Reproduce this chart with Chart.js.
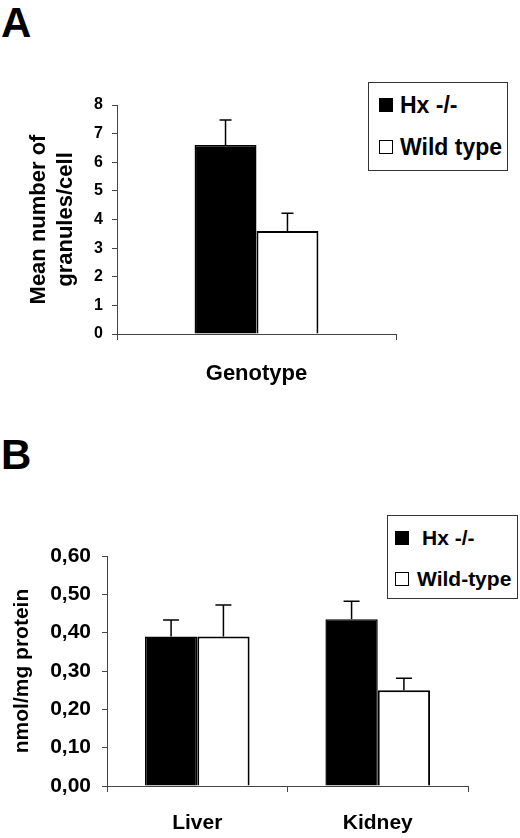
<!DOCTYPE html>
<html><head><meta charset="utf-8">
<script src="https://cdn.jsdelivr.net/npm/chart.js@4.4.1/dist/chart.umd.min.js"></script>
<style>
html,body{margin:0;padding:0;background:#fff;}
body{width:520px;height:838px;position:relative;overflow:hidden;font-family:"Liberation Sans",Arial,sans-serif;font-weight:bold;color:#000;}
.letter{position:absolute;left:1px;font-size:42px;line-height:42px;font-weight:bold;}
canvas{position:absolute;left:0;}
.legend{position:absolute;border:1px solid #333;background:#fff;box-sizing:border-box;}
.item{position:absolute;display:flex;align-items:center;white-space:nowrap;height:30px;}
.sw{display:inline-block;box-sizing:border-box;width:14px;height:14px;border:1.5px solid #000;flex:none;}
</style></head>
<body>
<div class="letter" style="top:2px">A</div>
<div class="letter" style="top:434px">B</div>
<canvas id="cA" width="520" height="400" style="top:0"></canvas>
<canvas id="cB" width="520" height="418" style="top:420px"></canvas>
<div id="legA" class="legend" style="left:368px;top:82px;width:140px;height:89px"></div>
<div id="legB" class="legend" style="left:387px;top:515px;width:131px;height:84px"></div>
<script>
// ---- Panel A data ----
const categoriesA = ['Genotype'];
const seriesNamesA = ['Hx -/-', 'Wild type'];
const hxA = [6.6];
const wtA = [3.6];
const hxErrA = [0.88];
const wtErrA = [0.62];
const yTicksA = ['0','1','2','3','4','5','6','7','8'];
const yTitleA = ['Mean number of', 'granules/cell'];

// ---- Panel B data ----
const categoriesB = ['Liver', 'Kidney'];
const seriesNamesB = ['Hx -/-', 'Wild-type'];
const hxB = [0.39, 0.435];
const wtB = [0.39, 0.25];
const hxErrB = [0.043, 0.047];
const wtErrB = [0.082, 0.031];
const yTicksB = ['0,00','0,10','0,20','0,30','0,40','0,50','0,60'];
const yTitleB = 'nmol/mg protein';

const FONT = '"Liberation Sans", Arial, sans-serif';

const errorBars = {
  id: 'errorBars',
  afterDatasetsDraw(chart, args, opts) {
    const ctx = chart.ctx, ys = chart.scales.y;
    ctx.save();
    ctx.strokeStyle = '#000';
    ctx.lineWidth = 1.5;
    chart.data.datasets.forEach((ds, i) => {
      const meta = chart.getDatasetMeta(i);
      meta.data.forEach((bar, j) => {
        const top = ys.getPixelForValue(ds.data[j] + ds.errors[j]);
        ctx.beginPath();
        ctx.moveTo(bar.x, bar.y);
        ctx.lineTo(bar.x, top);
        ctx.moveTo(bar.x - opts.cap / 2, top);
        ctx.lineTo(bar.x + opts.cap / 2, top);
        ctx.stroke();
      });
    });
    ctx.restore();
  }
};

function makeChart(id, cfg) {
  return new Chart(document.getElementById(id), {
    type: 'bar',
    data: {
      labels: cfg.cats,
      datasets: [
        { label: cfg.names[0], data: cfg.hx, errors: cfg.hxErr, backgroundColor: '#000', borderColor: '#000', borderWidth: 1.5 },
        { label: cfg.names[1], data: cfg.wt, errors: cfg.wtErr, backgroundColor: '#fff', borderColor: '#000', borderWidth: 2 }
      ]
    },
    plugins: [errorBars],
    options: {
      responsive: false,
      animation: false,
      devicePixelRatio: 1,
      layout: { padding: cfg.pad },
      datasets: { bar: { categoryPercentage: cfg.catPct, barPercentage: 1 } },
      plugins: {
        legend: { display: false },
        tooltip: { enabled: false },
        errorBars: { cap: cfg.cap }
      },
      scales: {
        x: {
          offset: true,
          grid: { offset: true, drawOnChartArea: false, drawTicks: true, tickLength: 6, color: '#444', lineWidth: 1 },
          border: { color: '#444', width: 1 },
          ticks: { color: '#000', padding: cfg.xPad, font: { family: FONT, size: cfg.xFont, weight: 'bold' } },
          afterFit: s => { s.height = cfg.xH; }
        },
        y: {
          min: 0, max: cfg.max,
          grid: { drawOnChartArea: false, drawTicks: true, tickLength: 5, color: '#444' },
          border: { color: '#444', width: 1 },
          ticks: {
            stepSize: cfg.step, color: '#000', padding: cfg.yPad,
            font: { family: FONT, size: cfg.yFont, weight: 'bold' },
            callback: (v, i) => cfg.tickLabels[i]
          },
          title: { display: true, text: cfg.title, color: '#000', padding: 0,
                   font: { family: FONT, size: cfg.titleFont, weight: 'bold', lineHeight: 1.2 } },
          afterFit: s => { s.width = cfg.yW; }
        }
      }
    }
  });
}

makeChart('cA', {
  cats: categoriesA, names: seriesNamesA, hx: hxA, wt: wtA, hxErr: hxErrA, wtErr: wtErrA,
  max: 8, step: 1, tickLabels: yTicksA, title: yTitleA,
  pad: { left: 26, right: 124, top: 105, bottom: 0 },
  yW: 91, xH: 66, catPct: 0.444, cap: 12,
  xFont: 22, xPad: 21, yFont: 16, yPad: 9, titleFont: 22
});

makeChart('cB', {
  cats: categoriesB, names: seriesNamesB, hx: hxB, wt: wtB, hxErr: hxErrB, wtErr: wtErrB,
  max: 0.6, step: 0.1, tickLabels: yTicksB, title: yTitleB,
  pad: { left: 10, right: 52, top: 136, bottom: 0 },
  yW: 97, xH: 52, catPct: 0.58, cap: 16,
  xFont: 21, xPad: 19, yFont: 21, yPad: 11, titleFont: 21
});

function buildLegend(id, names, rows, textX, swX, fontSize) {
  const el = document.getElementById(id);
  names.forEach((n, i) => {
    const it = document.createElement('div');
    it.className = 'item';
    it.style.top = (rows[i] - 15) + 'px';
    it.style.left = swX + 'px';
    const sw = document.createElement('span');
    sw.className = 'sw';
    sw.style.background = i === 0 ? '#000' : '#fff';
    const tx = document.createElement('span');
    tx.textContent = n;
    tx.style.fontSize = fontSize + 'px';
    tx.style.marginLeft = (textX[i] - swX - 14) + 'px';
    it.appendChild(sw); it.appendChild(tx);
    el.appendChild(it);
  });
}
buildLegend('legA', seriesNamesA, [22, 64], [31, 31], 10, 23);
buildLegend('legB', seriesNamesB, [22, 63], [34, 29], 7, 21);
</script>
</body></html>
